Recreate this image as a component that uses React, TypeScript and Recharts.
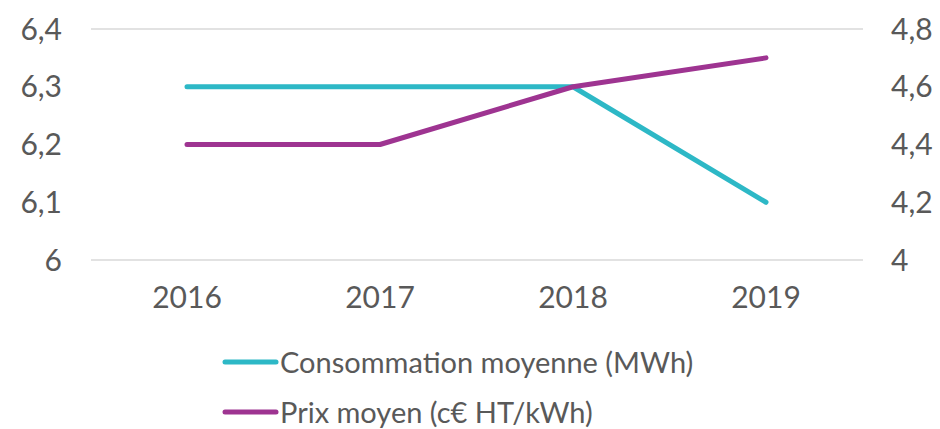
import React from 'react';
import { LineChart, Line, XAxis, YAxis, CartesianGrid, Legend } from 'recharts';

const years = ['2016', '2017', '2018', '2019'];
const consommation = [6.3, 6.3, 6.3, 6.1];
const prix = [4.4, 4.4, 4.6, 4.7];
const leftTicks = [6, 6.1, 6.2, 6.3, 6.4];
const rightTicks = [4, 4.2, 4.4, 4.6, 4.8];

const TEAL = '#2db8c6';
const PURPLE = '#9e3491';
const TEXT = '#595959';
const FONT = 'Lato, sans-serif';

const fmt = (v: number) => String(v).replace('.', ',');

const legendItems = [
  { label: 'Consommation moyenne (MWh)', color: TEAL },
  { label: 'Prix moyen (c€ HT/kWh)', color: PURPLE },
];

const LegendBox = () => (
  <div style={{ paddingLeft: 222, fontFamily: FONT, fontSize: 29, color: TEXT }}>
    {legendItems.map((it) => (
      <div key={it.label} style={{ display: 'flex', alignItems: 'center', height: 50 }}>
        <svg width={58} height={10}>
          <line x1={3} y1={5} x2={54} y2={5} stroke={it.color} strokeWidth={5} strokeLinecap="round" />
        </svg>
        <span style={{ lineHeight: '50px' }}>{it.label}</span>
      </div>
    ))}
  </div>
);

export default function App() {
  const data = years.map((y, i) => ({ year: y, conso: consommation[i], prix: prix[i] }));
  const tick = { fontSize: 30, fill: TEXT, fontFamily: FONT };

  return (
    <div style={{ position: 'absolute', left: 0, top: 0, background: '#fff' }}>
      <LineChart width={940} height={429} data={data} margin={{ top: 29, right: 0, left: 0, bottom: 0 }}>
        <CartesianGrid vertical={false} stroke="#d9d9d9" strokeWidth={1.5} />
        <XAxis
          dataKey="year"
          axisLine={false}
          tickLine={false}
          tickSize={0}
          tickMargin={27}
          height={69}
          padding={{ left: 96, right: 97 }}
          tick={tick}
        />
        <YAxis
          yAxisId="left"
          domain={[6, 6.4]}
          ticks={leftTicks}
          tickFormatter={fmt}
          axisLine={false}
          tickLine={false}
          tickSize={0}
          tickMargin={29}
          width={91}
          tick={tick}
        />
        <YAxis
          yAxisId="right"
          orientation="right"
          domain={[4, 4.8]}
          ticks={rightTicks}
          tickFormatter={fmt}
          axisLine={false}
          tickLine={false}
          tickSize={0}
          tickMargin={28}
          width={77}
          tick={{ ...tick, textAnchor: 'start' }}
        />
        <Line
          yAxisId="left"
          dataKey="conso"
          stroke={TEAL}
          strokeWidth={5}
          strokeLinecap="round"
          strokeLinejoin="round"
          dot={false}
          isAnimationActive={false}
        />
        <Line
          yAxisId="right"
          dataKey="prix"
          stroke={PURPLE}
          strokeWidth={5}
          strokeLinecap="round"
          strokeLinejoin="round"
          dot={false}
          isAnimationActive={false}
        />
        <Legend
          content={<LegendBox />}
          wrapperStyle={{ left: 0, top: 337, width: 940, bottom: 'auto' }}
        />
      </LineChart>
    </div>
  );
}
